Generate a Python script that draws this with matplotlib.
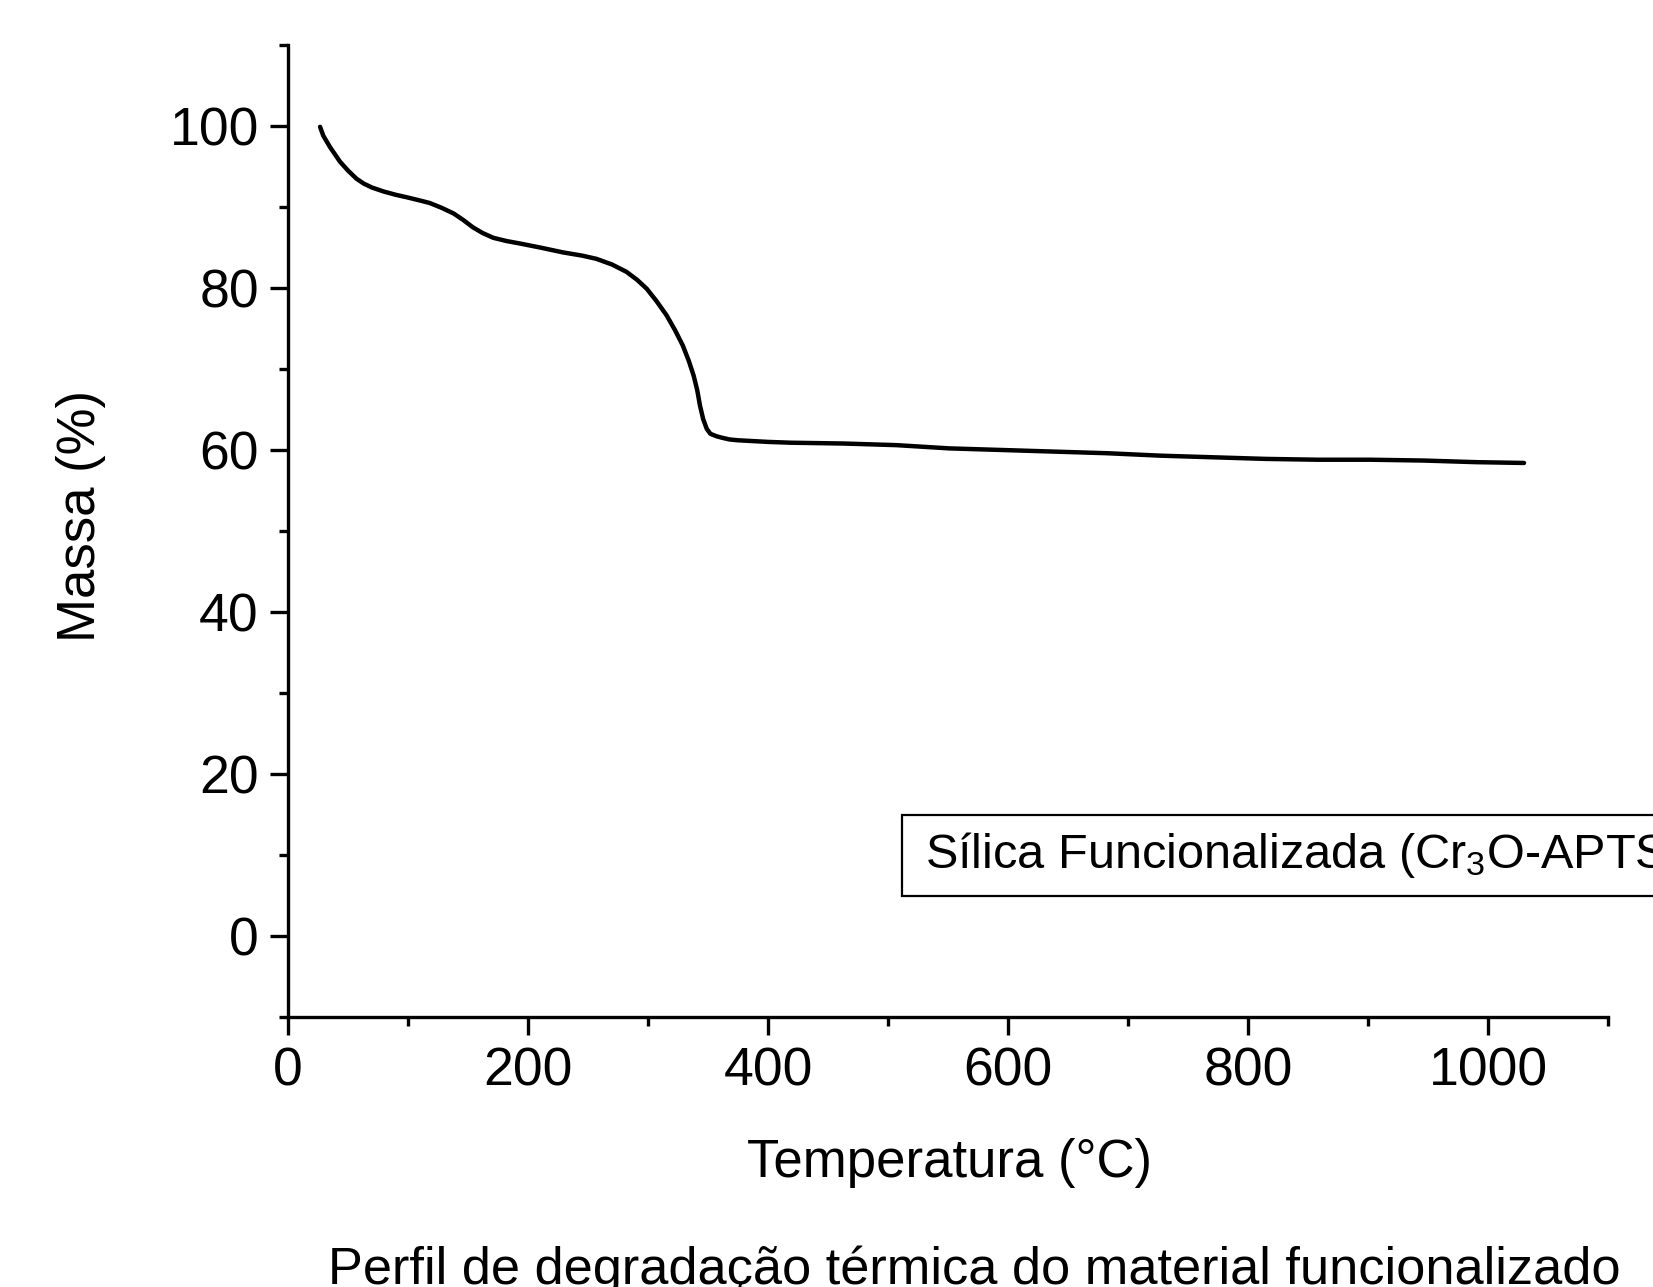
import matplotlib
matplotlib.use("Agg")
import matplotlib.pyplot as plt
from matplotlib.patches import Rectangle
from matplotlib.ticker import MultipleLocator

plt.rcParams['font.family'] = ['Liberation Sans', 'DejaVu Sans']
plt.rcParams['mathtext.default'] = 'regular'

temperature = [26.7, 29.4, 35, 43.3, 50, 57, 63, 70, 80, 90, 99, 110, 118, 128, 138, 146,
               154, 162, 171, 182, 193, 210, 229, 245, 257, 270, 282, 291, 299, 307, 315.6,
               322.5, 329, 334, 338, 341, 343.3, 346, 349, 352, 357, 362, 368, 375, 400, 419,
               463, 507, 551, 595, 639, 683, 727, 771, 815, 858, 902, 946, 990, 1030]
mass = [99.9, 98.8, 97.4, 95.6, 94.5, 93.5, 92.9, 92.4, 91.9, 91.5, 91.2, 90.8, 90.5, 89.9,
        89.2, 88.4, 87.5, 86.8, 86.2, 85.8, 85.5, 85.0, 84.4, 84.0, 83.6, 82.9, 82.0, 81.0,
        79.9, 78.4, 76.6, 74.8, 72.9, 71.0, 69.2, 67.4, 65.5, 63.8, 62.6, 62.0, 61.7, 61.5,
        61.3, 61.2, 61.0, 60.9, 60.8, 60.6, 60.2, 60.0, 59.8, 59.6, 59.3, 59.1, 58.9, 58.8,
        58.8, 58.7, 58.5, 58.4]

x_label = "Temperatura (°C)"
y_label = "Massa (%)"
legend_text = "Sílica Funcionalizada (Cr$_3$O-APTS)"
caption = "Perfil de degradação térmica do material funcionalizado"

W, H = 1653, 1287
fig = plt.figure(figsize=(W / 100, H / 100), dpi=100)
ax = fig.add_axes([288 / W, 1 - 1017 / H, (1608 - 288) / W, (1017 - 45) / H])

ax.plot(temperature, mass, color='black', lw=3.2, solid_capstyle='round',
        solid_joinstyle='round')
ax.set_xlim(0, 1100)
ax.set_ylim(-10, 110)
ax.xaxis.set_major_locator(MultipleLocator(200))
ax.xaxis.set_minor_locator(MultipleLocator(100))
ax.yaxis.set_major_locator(MultipleLocator(20))
ax.yaxis.set_minor_locator(MultipleLocator(10))
for s in ['top', 'right']:
    ax.spines[s].set_visible(False)
for s in ['left', 'bottom']:
    ax.spines[s].set_linewidth(2.4)
ax.tick_params(which='major', direction='out', length=13, width=2.4, labelsize=38.5, pad=8)
ax.tick_params(which='minor', direction='out', length=6.5, width=2.4)

fig.text(81 / W, 1 - 516 / H, y_label, rotation=90, ha='center', va='center', fontsize=38)
fig.text(949 / W, 1 - 1163 / H, x_label, ha='center', va='center', fontsize=38)
fig.text(974 / W, 1 - 1284 / H, caption, ha='center', va='baseline', fontsize=37.7)

rect = Rectangle((902 / W, 1 - 896 / H), 0.6, (896 - 815) / H, transform=fig.transFigure,
                 facecolor='white', edgecolor='black', lw=1.6)
fig.add_artist(rect)
fig.text(925 / W, 1 - 868 / H, legend_text, ha='left', va='baseline', fontsize=35)

fig.savefig("out.png", dpi=100)
